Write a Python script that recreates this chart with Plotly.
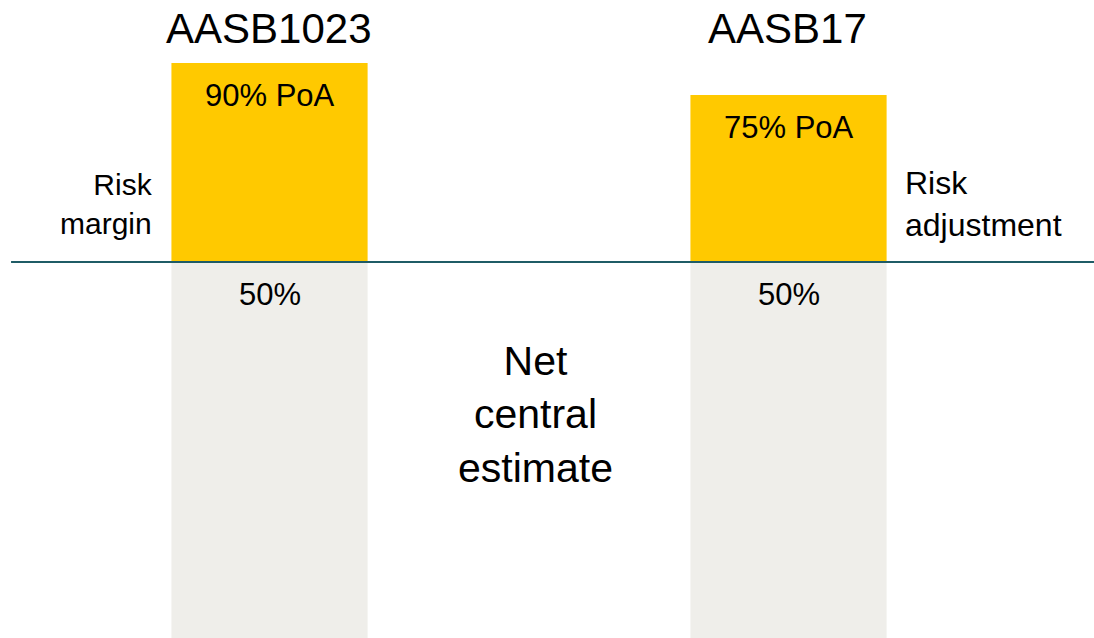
import plotly.graph_objects as go

# Reserving bases compared under the two standards
standards = ["AASB1023", "AASB17"]
central_estimate = [380, 380]          # net central estimate, drawn below the baseline
risk_loading = [199, 167]              # risk margin / risk adjustment above the baseline
loading_labels = ["90% PoA", "75% PoA"]
central_labels = ["50%", "50%"]
side_labels = ["Risk<br>margin", "Risk<br>adjustment"]

YELLOW = "#FFC900"
GREY = "#EFEEEA"
LINE = "#1F5C66"
FONT = "Liberation Sans, Arial, sans-serif"

fig = go.Figure()

fig.add_trace(go.Bar(
    x=standards, y=[-v for v in central_estimate],
    marker=dict(color=GREY, line=dict(width=0)),
    width=0.378, hoverinfo="skip",
))
fig.add_trace(go.Bar(
    x=standards, y=risk_loading,
    marker=dict(color=YELLOW, line=dict(width=0)),
    width=0.378, hoverinfo="skip",
))

# Baseline separating the central estimate from the risk loading
fig.add_shape(type="line", xref="paper", yref="y", x0=0.0101, x1=1, y0=0, y1=0,
              line=dict(color=LINE, width=2), layer="above")

annotations = []
for i, s in enumerate(standards):
    annotations.append(dict(x=s, y=234, text=s, showarrow=False, xshift=-1,
                            font=dict(size=42, color="#000000", family=FONT)))
    annotations.append(dict(x=s, y=risk_loading[i] - 32, text=loading_labels[i],
                            showarrow=False,
                            font=dict(size=31, color="#000000", family=FONT)))
    annotations.append(dict(x=s, y=-32, text=central_labels[i], showarrow=False,
                            font=dict(size=31, color="#000000", family=FONT)))

annotations.append(dict(x=standards[0], y=58, text=side_labels[0], showarrow=False,
                        xshift=-115, xanchor="right", align="right",
                        font=dict(size=30, color="#000000", family=FONT)))
annotations.append(dict(x=standards[1], y=58, text=side_labels[1], showarrow=False,
                        xshift=114, xanchor="left", align="left",
                        font=dict(size=32, color="#000000", family=FONT)))
annotations.append(dict(x=0.5, y=-152, text="Net<br>central<br>estimate",
                        showarrow=False, xshift=6,
                        font=dict(size=41, color="#000000", family=FONT)))

fig.update_layout(
    width=1094, height=638,
    margin=dict(l=0, r=0, t=0, b=0),
    paper_bgcolor="white", plot_bgcolor="white",
    barmode="relative", showlegend=False,
    xaxis=dict(range=[-0.5193, 1.5886], visible=False, fixedrange=True),
    yaxis=dict(range=[-376, 262], visible=False, fixedrange=True),
    annotations=annotations,
)

fig.write_html("out.html")
